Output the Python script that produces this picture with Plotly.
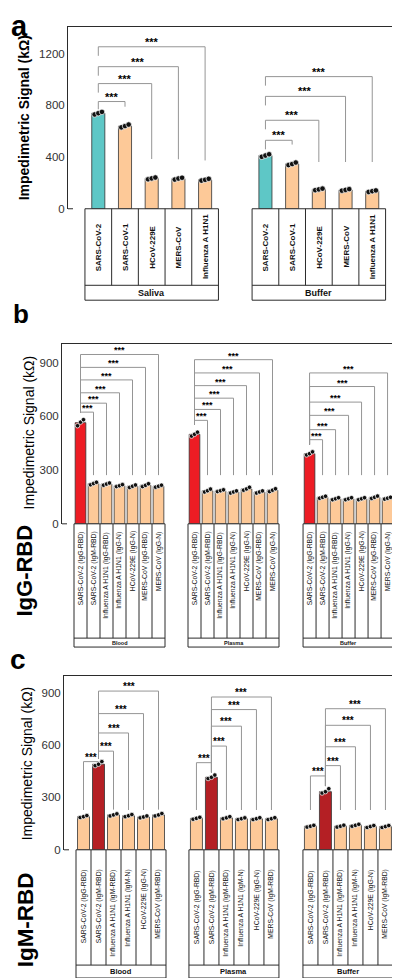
import plotly.graph_objects as go

W, H = 400, 978

# ---------------- Panel a data ----------------
a_groups = ["Saliva", "Buffer"]
a_categories = ["SARS-CoV-2", "SARS-CoV-1", "HCoV-229E", "MERS-CoV", "Influenza A H1N1"]
a_saliva = [740, 640, 235, 233, 224]
a_buffer = [412, 347, 150, 146, 136]
a_saliva_reps = [[730, 740, 750], [630, 640, 652], [228, 235, 242], [226, 234, 240], [218, 224, 232]]
a_buffer_reps = [[402, 412, 422], [338, 346, 358], [144, 150, 156], [140, 146, 152], [130, 136, 142]]
a_sig_saliva = [830, 969, 1100, 1254]
a_sig_buffer = [530, 685, 870, 1023]
a_ticks = [0, 400, 800, 1200]

# ---------------- Panel b data (IgG-RBD) ----------------
b_groups = ["Blood", "Plasma", "Buffer"]
b_categories = ["SARS-CoV-2 (IgG-RBD)", "SARS-CoV-2 (IgM-RBD)", "Influenza A H1N1 (IgG-RBD)",
                "Influenza A H1N1 (IgG-N)", "HCoV-229E (IgG-N)", "MERS-CoV (IgG-RBD)", "MERS-CoV (IgG-N)"]
b_blood = [565, 225, 222, 213, 210, 215, 210]
b_plasma = [500, 185, 185, 178, 195, 178, 188]
b_buffer = [392, 148, 140, 140, 140, 148, 143]
b_blood_reps = [[548, 568, 582], [218, 225, 232], [216, 222, 228], [208, 213, 219],
                [203, 210, 217], [208, 215, 224], [205, 210, 216]]
b_plasma_reps = [[490, 500, 512], [178, 185, 194], [180, 185, 190], [172, 178, 184],
                 [188, 195, 204], [172, 178, 184], [180, 188, 196]]
b_buffer_reps = [[385, 392, 402], [143, 148, 154], [135, 140, 146], [135, 140, 146],
                 [135, 140, 146], [142, 148, 155], [138, 143, 148]]
b_sig_blood = [624, 674, 732, 804, 874, 946]
b_sig_plasma = [578, 639, 702, 772, 843, 917]
b_sig_buffer = [470, 526, 606, 680, 767, 843]
b_ticks = [0, 300, 600, 900]

# ---------------- Panel c data (IgM-RBD) ----------------
c_groups = ["Blood", "Plasma", "Buffer"]
c_categories = ["SARS-CoV-2 (IgG-RBD)", "SARS-CoV-2 (IgM-RBD)", "Influenza A H1N1 (IgM-RBD)",
                "Influenza A H1N1 (IgM-N)", "HCoV-229E (IgG-N)", "MERS-CoV (IgM-RBD)"]
c_blood = [190, 490, 200, 195, 188, 200]
c_plasma = [180, 415, 183, 178, 178, 178]
c_buffer = [135, 333, 135, 140, 133, 133]
c_blood_reps = [[185, 190, 196], [482, 490, 505], [194, 200, 206], [190, 195, 202], [183, 188, 194], [194, 200, 208]]
c_plasma_reps = [[175, 180, 186], [408, 415, 428], [178, 183, 190], [173, 178, 183], [173, 178, 184], [173, 178, 184]]
c_buffer_reps = [[130, 135, 140], [325, 333, 350], [130, 135, 141], [135, 140, 146], [128, 133, 139], [128, 133, 139]]
c_sig_blood = [505, 565, 669, 780, 909]
c_sig_plasma = [499, 594, 708, 803, 875]
c_sig_buffer = [423, 482, 590, 713, 808]
c_ticks = [0, 300, 600, 900]

FONT = "Liberation Sans, Arial, sans-serif"
PEACH = "#fdc998"
FRAME = "#2b2b2b"
BRACKET = "#959595"

panels = [
    dict(ax="", cats=a_categories, groups=a_groups,
         values=[a_saliva, a_buffer], reps=[a_saliva_reps, a_buffer_reps],
         sigs=[a_sig_saliva, a_sig_buffer], ticks=a_ticks, ctrl=0, ctrl_color="#5ec7c6",
         first_px=90.3, slot_px=26.7, offsets=[0, 6.26], left_px=60, right_px=397,
         top_px=19, zero_px=202, ymax=1408, cell_bot=279, lab_bot=294,
         bar_w=0.49, msize=5.5, star_size=11, cell_font=8, cell_bold=True, cell_align="middle",
         group_font=9, floor=362, tgt_margin=150, ctrl_short=70, ctrl_margin=None),
    dict(ax="2", cats=b_categories, groups=b_groups,
         values=[b_blood, b_plasma, b_buffer], reps=[b_blood_reps, b_plasma_reps, b_buffer_reps],
         sigs=[b_sig_blood, b_sig_plasma, b_sig_buffer], ticks=b_ticks, ctrl=0, ctrl_color="#ed1c24",
         first_px=72.5, slot_px=13.0, offsets=[0, 8.77, 17.62], left_px=54, right_px=398,
         top_px=338, zero_px=519, ymax=1005, cell_bot=634, lab_bot=643,
         bar_w=0.82, msize=4.5, star_size=9, cell_font=6.8, cell_bold=False, cell_align="top",
         cell_top_gap=6, group_font=5.5, floor=272, tgt_margin=40, ctrl_short=None, ctrl_margin=40),
    dict(ax="3", cats=c_categories, groups=c_groups,
         values=[c_blood, c_plasma, c_buffer], reps=[c_blood_reps, c_plasma_reps, c_buffer_reps],
         sigs=[c_sig_blood, c_sig_plasma, c_sig_buffer], ticks=c_ticks, ctrl=1, ctrl_color="#b41f24",
         first_px=75.5, slot_px=15.0, offsets=[0, 7.53, 15.13], left_px=56, right_px=398,
         top_px=672, zero_px=847, ymax=996, cell_bot=963, lab_bot=976,
         bar_w=0.8, msize=4.5, star_size=10, cell_font=6.8, cell_bold=False, cell_align="top",
         cell_top_gap=18, group_font=7.5, floor=228, tgt_margin=30, ctrl_short=None, ctrl_margin=15),
]


def py(px):
    return 1 - px / H


fig = go.Figure()
shapes = []
annotations = []
layout_axes = {}

for p in panels:
    xa = "x" + p["ax"]
    ya = "y" + p["ax"]
    n = len(p["cats"])
    units_per_px = p["ymax"] / (p["zero_px"] - p["top_px"])

    for gi, (vals, reps) in enumerate(zip(p["values"], p["reps"])):
        o = p["offsets"][gi]
        xs = [o + i for i in range(n)]
        colors = [p["ctrl_color"] if i == p["ctrl"] else PEACH for i in range(n)]
        fig.add_trace(go.Bar(x=xs, y=vals, width=p["bar_w"],
                             marker=dict(color=colors, line=dict(color="#333", width=0.8)),
                             xaxis=xa, yaxis=ya, showlegend=False, hoverinfo="skip"))
        px_, py_ = [], []
        for i, r in enumerate(reps):
            for j, v in enumerate(r):
                px_.append(o + i + (j - 1) * p["bar_w"] * 0.28)
                py_.append(v)
        fig.add_trace(go.Scatter(x=px_, y=py_, mode="markers", xaxis=xa, yaxis=ya, showlegend=False,
                                 marker=dict(size=p["msize"], color="#111", line=dict(color="white", width=0.7)),
                                 hoverinfo="skip"))

        # significance brackets
        k = p["ctrl"]
        targets = [t for t in range(n) if t != k]
        ctrl_top = max(reps[k])
        for h, t in zip(p["sigs"][gi], targets):
            min_gap = 2 * units_per_px
            tgt_end = max(p["floor"], vals[t] + p["tgt_margin"])
            tgt_end = min(tgt_end, h - min_gap)
            if p["ctrl_short"] is not None:
                ctrl_end = max(h - p["ctrl_short"], ctrl_top + 20)
            else:
                ctrl_end = ctrl_top + p["ctrl_margin"]
            ctrl_end = min(ctrl_end, h)
            xc, xt = o + k, o + t
            path = f"M {xc},{ctrl_end} L {xc},{h} L {xt},{h} L {xt},{tgt_end}"
            shapes.append(dict(type="path", path=path, xref=xa, yref=ya,
                               line=dict(color=BRACKET, width=1)))
            annotations.append(dict(x=(xc + xt) / 2, y=h, xref=xa, yref=ya, text="<b>***</b>", showarrow=False,
                                    yanchor="bottom", xanchor="center", yshift=-3,
                                    font=dict(family=FONT, size=p["star_size"], color="#000000")))

        # category table
        x0, x1 = o - 0.5, o + n - 0.5
        shapes.append(dict(type="rect", xref=xa, yref="paper", x0=x0, x1=x1,
                           y0=py(p["lab_bot"]), y1=py(p["zero_px"]), line=dict(color=FRAME, width=1)))
        shapes.append(dict(type="line", xref=xa, yref="paper", x0=x0, x1=x1,
                           y0=py(p["cell_bot"]), y1=py(p["cell_bot"]), line=dict(color=FRAME, width=1)))
        for i in range(1, n):
            shapes.append(dict(type="line", xref=xa, yref="paper", x0=o + i - 0.5, x1=o + i - 0.5,
                               y0=py(p["cell_bot"]), y1=py(p["zero_px"]), line=dict(color=FRAME, width=1)))
        for i, c in enumerate(p["cats"]):
            txt = f"<b>{c}</b>" if p["cell_bold"] else c
            if p["cell_align"] == "middle":
                yy, yanc = py((p["zero_px"] + p["cell_bot"]) / 2), "middle"
            else:
                yy, yanc = py(p["zero_px"] + p["cell_top_gap"]), "top"
            annotations.append(dict(x=o + i, y=yy, xref=xa, yref="paper", text=txt, showarrow=False,
                                    textangle=-90, xanchor="center", yanchor=yanc,
                                    font=dict(family=FONT, size=p["cell_font"], color="#111")))
        annotations.append(dict(x=o + (n - 1) / 2, y=py((p["cell_bot"] + p["lab_bot"]) / 2), xref=xa, yref="paper",
                                text=f"<b>{p['groups'][gi]}</b>", showarrow=False, xanchor="center", yanchor="middle",
                                font=dict(family=FONT, size=p["group_font"], color="#111")))

    xr = [(p["left_px"] - p["first_px"]) / p["slot_px"], (p["right_px"] - p["first_px"]) / p["slot_px"]]
    xkey = "xaxis" + p["ax"]
    ykey = "yaxis" + p["ax"]
    layout_axes[xkey] = dict(domain=[p["left_px"] / W, p["right_px"] / W], range=xr, anchor=ya,
                             showline=True, side="top", linecolor=FRAME, linewidth=1, mirror=False,
                             showticklabels=False, ticks="", showgrid=False, zeroline=False, fixedrange=True)
    layout_axes[ykey] = dict(domain=[py(p["zero_px"]), py(p["top_px"])], range=[0, p["ymax"]], anchor=xa,
                             showline=True, mirror=True, linecolor=FRAME, linewidth=1, ticks="",
                             tickvals=p["ticks"], showgrid=False, zeroline=False,
                             tickfont=dict(family=FONT, size=11.5, color="#333"), fixedrange=True)
    shapes.append(dict(type="line", xref="paper", yref="paper", x0=p["left_px"] / W, x1=(p["left_px"] + 5) / W,
                       y0=py(p["zero_px"]), y1=py(p["zero_px"]), line=dict(color=FRAME, width=1)))


def lab(text, xpx, ypx, size, angle=0, yanchor="middle", yshift=0):
    annotations.append(dict(x=xpx / W, y=py(ypx), xref="paper", yref="paper", text=text, showarrow=False,
                            textangle=angle, xanchor="center", yanchor=yanchor, yshift=yshift,
                            font=dict(family=FONT, size=size, color="#000")))


lab("<b>Impedimetric Signal (kΩ)</b>", 16, 111, 14, -90)
lab("Impedimetric Signal (kΩ)", 21, 427, 14, -90)
lab("Impedimetric Signal (kΩ)", 19, 760, 14, -90)
lab("<b>IgG-RBD</b>", 17, 566, 22, -90)
lab("<b>IgM-RBD</b>", 17, 918, 22.5, -90)
lab("<b>a</b>", 11, 0, 29, yanchor="top")
lab("<b>b</b>", 13, 308, 26)
lab("<b>c</b>", 10, 656, 28)

fig.update_layout(width=W, height=H, margin=dict(l=0, r=0, t=0, b=0), autosize=False,
                  paper_bgcolor="white", plot_bgcolor="white", barmode="overlay",
                  shapes=shapes, annotations=annotations, **layout_axes)

fig.write_html("out.html")
